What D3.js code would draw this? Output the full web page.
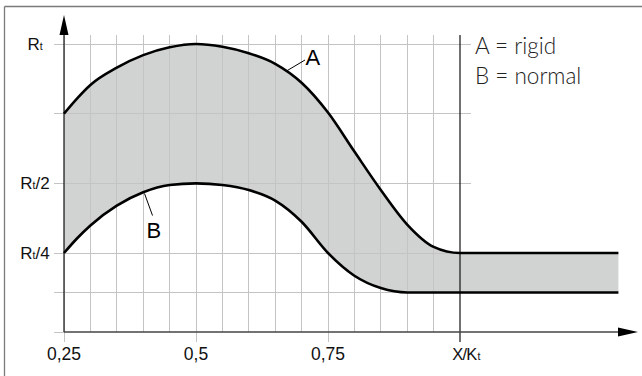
<!DOCTYPE html>
<html><head><meta charset="utf-8">
<script src="https://cdn.jsdelivr.net/npm/d3@7"></script>
<style>html,body{margin:0;padding:0;background:#fff;}svg{display:block;}</style>
</head><body>
<script>
// ---- data ----
const xs      = [0.25,0.275,0.30,0.35,0.40,0.45,0.50,0.55,0.60,0.65,0.70,0.75,0.80,0.85,0.90,0.95,1.00,1.05,1.30];
const rigidA  = [0.750,0.805,0.853,0.915,0.960,0.988,1.000,0.990,0.967,0.929,0.861,0.754,0.614,0.476,0.352,0.272,0.250,0.250,0.250];
const normalB = [0.250,0.303,0.349,0.420,0.468,0.494,0.500,0.494,0.476,0.438,0.362,0.250,0.178,0.139,0.125,0.125,0.125,0.125,0.125];
const xGrid   = [0.30,0.35,0.40,0.45,0.55,0.60,0.65,0.70,0.80,0.85,0.90,0.95];
const xTicks  = [0.25,0.50,0.75];
const xTickLabels = ["0,25","0,5","0,75"];
const yGrid   = [0.125,0.25,0.5,0.75,1.0];
const yTicks  = [1.0,0.5,0.25];
const yTickLabels = ["R/","R/2","R/4"];
const legend  = ["A = rigid","B = normal"];

const W=642,H=376;
const svg=d3.select("body").append("svg").attr("width",W).attr("height",H);
const x=d3.scaleLinear().domain([0.25,1.0]).range([64,460]);
const y=d3.scaleLinear().domain([0,0.125,0.25,1]).range([332,292.5,253,44]);
const gridTop=35, gridLeft=54, gridRight=471;

// frame
svg.append("line").attr("x1",4.5).attr("x2",4.5).attr("y1",6.5).attr("y2",H).attr("stroke","#7a7a7a").attr("stroke-width",1.3);
svg.append("line").attr("x1",4.5).attr("x2",W).attr("y1",6.5).attr("y2",6.5).attr("stroke","#7a7a7a").attr("stroke-width",1.3);

const pts=xs.map((v,i)=>({x:v,a:rigidA[i],b:normalB[i]}));
const curve=d3.curveMonotoneX;
// fill band
svg.append("path").datum(pts)
  .attr("d",d3.area().x(d=>x(d.x)).y0(d=>y(d.b)).y1(d=>y(d.a)).curve(curve))
  .attr("fill","#d1d3d3");

// grid
const g=svg.append("g").attr("stroke","#c4c4c4").attr("stroke-width",1).attr("shape-rendering","crispEdges");
xGrid.forEach(v=>g.append("line").attr("x1",x(v)).attr("x2",x(v)).attr("y1",gridTop).attr("y2",y(0)));
xTicks.forEach(v=>g.append("line").attr("x1",x(v)).attr("x2",x(v)).attr("y1",gridTop).attr("y2",y(0)+10));
yGrid.forEach(v=>g.append("line").attr("x1",gridLeft).attr("x2",gridRight).attr("y1",y(v)).attr("y2",y(v)));
g.append("line").attr("x1",gridLeft).attr("x2",x(0.25)).attr("y1",y(0)).attr("y2",y(0));
// x = 1 line
svg.append("line").attr("x1",x(1)).attr("x2",x(1)).attr("y1",gridTop).attr("y2",y(0)+10)
  .attr("stroke","#111").attr("stroke-width",1.2);

// axes
svg.append("line").attr("x1",x(0.25)).attr("x2",x(0.25)).attr("y1",y(0)).attr("y2",30).attr("stroke","#222").attr("stroke-width",1.3);
svg.append("path").attr("d",`M${x(0.25)},15L${x(0.25)-4.5},35L${x(0.25)+4.5},35Z`).attr("fill","#000");
svg.append("line").attr("x1",x(0.25)).attr("x2",622).attr("y1",y(0)).attr("y2",y(0)).attr("stroke","#444").attr("stroke-width",1.5);
svg.append("path").attr("d",`M638,${y(0)}L618,${y(0)-4.5}L618,${y(0)+4.5}Z`).attr("fill","#000");

// curves
const line=k=>d3.line().x(d=>x(d.x)).y(d=>y(d[k])).curve(curve);
svg.append("path").datum(pts).attr("d",line("a")).attr("fill","none").attr("stroke","#000").attr("stroke-width",2.6);
svg.append("path").datum(pts).attr("d",line("b")).attr("fill","none").attr("stroke","#000").attr("stroke-width",2.6);

// tick labels
const font="'Liberation Sans', Arial, sans-serif";
xTicks.forEach((v,i)=>svg.append("text").attr("x",x(v)).attr("y",360).attr("text-anchor","middle")
  .attr("font-family",font).attr("font-size",17.5).attr("fill","#111").text(xTickLabels[i]));
const xl=svg.append("text").attr("x",x(1)+6).attr("y",360).attr("text-anchor","middle")
  .attr("font-family",font).attr("font-size",16.5).attr("fill","#111").attr("letter-spacing",-0.8);
xl.append("tspan").text("X/K");
xl.append("tspan").attr("font-size",10.5).attr("dx",1).text("t");

yTicks.forEach((v,i)=>{
  const t=svg.append("text").attr("x",35).attr("y",y(v)+5.5).attr("text-anchor","middle")
    .attr("font-family",font).attr("font-size",17).attr("fill","#111");
  t.append("tspan").text("R");
  t.append("tspan").attr("font-size",10.5).text("t");
  if(i>0) t.append("tspan").text(yTickLabels[i].slice(1));
});

// curve labels with leader lines
svg.append("line").attr("x1",286.5).attr("x2",305).attr("y1",71).attr("y2",60).attr("stroke","#000").attr("stroke-width",1);
svg.append("text").attr("x",305.5).attr("y",65).attr("font-family",font).attr("font-size",22).attr("fill","#000").text("A");
svg.append("line").attr("x1",144.5).attr("x2",152.5).attr("y1",193.5).attr("y2",215.5).attr("stroke","#000").attr("stroke-width",1);
svg.append("text").attr("x",146.5).attr("y",237.5).attr("font-family",font).attr("font-size",22).attr("fill","#000").text("B");

// legend
legend.forEach((s,i)=>svg.append("text").attr("x",475).attr("y",53.5+i*30)
  .attr("font-family","Lato, 'Open Sans', sans-serif").attr("font-weight",300).attr("font-size",22.5).attr("fill","#222").text(s));
</script>
</body></html>
